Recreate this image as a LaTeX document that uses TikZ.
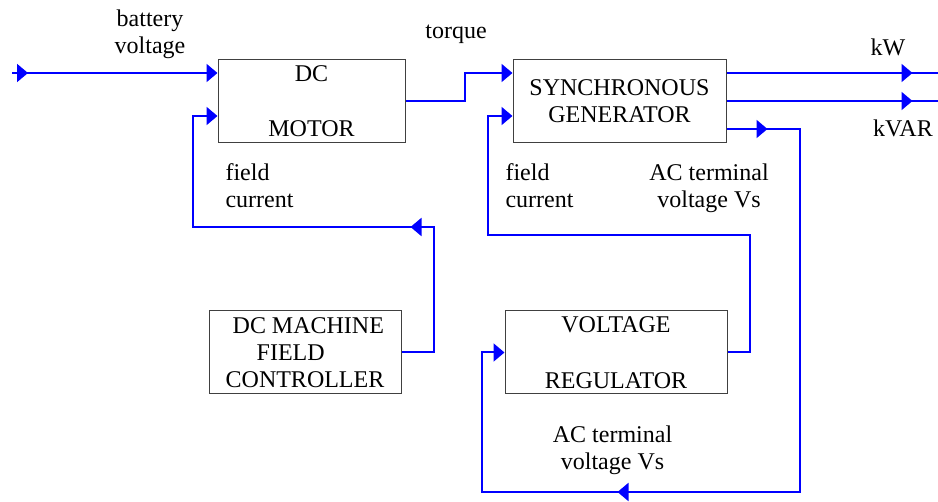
\documentclass[tikz,border=0pt]{standalone}
\usepackage{fontspec}
\setmainfont{Liberation Serif}
\usetikzlibrary{arrows.meta, decorations.markings}

\begin{document}
\begin{tikzpicture}[
    x=0.5pt, y=-0.5pt,
    box/.style={draw=black!75, line width=0.5pt, rectangle, minimum width=#1, minimum height=41.5pt, align=center, inner sep=0pt, font=\fontsize{12}{13.5}\selectfont},
    flow/.style={-{Triangle[length=5.5pt, width=9pt]}, blue, line width=1pt},
    wire/.style={blue, line width=1pt},
    tipat/.style={postaction={decorate, decoration={markings, mark=at position #1 with {\arrow{Triangle[length=5.5pt, width=9pt]}}}}},
    lbl/.style={font=\fontsize{12}{13.5}\selectfont, align=left, inner sep=0pt}
]
\useasboundingbox (0,0) rectangle (938,502);

% Blocks
\node[box=93.5pt] (motor) at (311.5,101.5) {DC\\[14pt]MOTOR};
\node[box=106.5pt] (gen) at (619.5,101) {SYNCHRONOUS\\GENERATOR};
\node[box=96pt, align=left] (ctrl) at (305,352.5) {\hspace*{3.5pt}DC MACHINE\\\hspace*{15.5pt}FIELD\\CONTROLLER};
\node[box=111pt] (reg) at (616,352.5) {VOLTAGE\\[14.5pt]REGULATOR};

% Corner points of the wiring
\coordinate (in) at (12,73);
\coordinate (tq) at (465,73);
\coordinate (fc) at (434,227);
\coordinate (mfield) at (193,116);
\coordinate (kw) at (938,73);
\coordinate (kvar) at (938,101);
\coordinate (vs) at (800,129);
\coordinate (vb) at (482,492);
\coordinate (rr) at (750,235);
\coordinate (gfield) at (488,116);

% Signal paths
\draw[flow, tipat=8pt] (in) -- (in -| motor.west);
\draw[flow] (motor.east) -| (tq) -- (tq -| gen.west);
\draw[flow, tipat=90.75pt] (ctrl.east) -| (fc) -| (mfield) -- (mfield -| motor.west);
\draw[wire, tipat=93pt] (kw -| gen.east) -- (kw);
\draw[wire, tipat=93pt] (kvar -| gen.east) -- (kvar);
\draw[flow, tipat=20.5pt, tipat=309.5pt] (vs -| gen.east) -- (vs) |- (vb) |- (reg.west);
\draw[flow] (reg.east) -| (rr) -| (gfield) -- (gfield -| gen.west);

% Labels
\node[lbl, align=center] (lbat) at (150,34) {battery\\voltage};
\node[lbl] (ltq) at (456,34) {torque};
\node[lbl] (lmf) at (259.5,186) {field\\current};
\node[lbl] (lgf) at (539.5,186) {field\\current};
\node[lbl, align=center] (lvs) at (709,188) {AC terminal\\voltage Vs};
\node[lbl, align=center] (lvr) at (612.5,450) {AC terminal\\voltage Vs};
\node[lbl] (lkw) at (888,47) {kW};
\node[lbl] (lkvar) at (903,128) {kVAR};

\end{tikzpicture}
\end{document}
